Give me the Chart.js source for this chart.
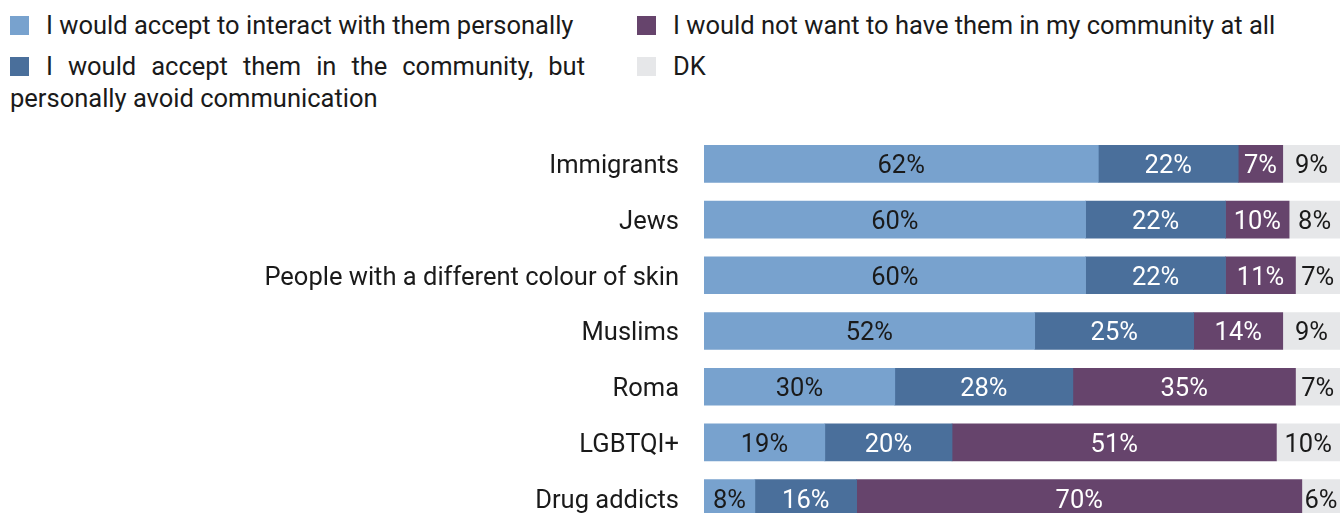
<!DOCTYPE html>
<html>
<head>
<meta charset="utf-8">
<script src="https://cdn.jsdelivr.net/npm/chart.js@4"></script>
<style>
  html, body { margin: 0; padding: 0; width: 1341px; height: 513px; overflow: hidden; background: #fff; font-family: Roboto, sans-serif; color: #1a1a1a; }
  .legend { position: absolute; font-size: 25.5px; line-height: 32px; }
  .box { display: inline-block; width: 19px; height: 19px; margin-right: 17px; vertical-align: -1px; }
  #leg1 { left: 10px; top: 9px; width: 575px; }
  #leg2 { left: 10px; top: 50px; width: 575px; text-align: justify; }
  #leg3 { left: 637px; top: 9px; }
  #leg4 { left: 637px; top: 50px; }
  #myChart { position: absolute; left: 0; top: 136px; }
</style>
</head>
<body>
<div class="legend" id="leg1"></div>
<div class="legend" id="leg2"></div>
<div class="legend" id="leg3"></div>
<div class="legend" id="leg4"></div>
<canvas id="myChart" width="1341" height="390"></canvas>
<script>
const categories = ['Immigrants', 'Jews', 'People with a different colour of skin', 'Muslims', 'Roma', 'LGBTQI+', 'Drug addicts'];
const seriesNames = [
    'I would accept to interact with them personally',
    'I would accept them in the community, but personally avoid communication',
    'I would not want to have them in my community at all',
    'DK'
];
const acceptPersonally = [62, 60, 60, 52, 30, 19, 8];
const avoidCommunication = [22, 22, 22, 25, 28, 20, 16];
const notInCommunity = [7, 10, 11, 14, 35, 51, 70];
const dontKnow = [9, 8, 7, 9, 7, 10, 6];

const colors = ['#78a2ce', '#4a6f9b', '#66446c', '#e6e7e9'];
const labelColors = ['#1a1a1a', '#ffffff', '#ffffff', '#1a1a1a'];

// legend built as html so the wrapped item can be justified like the original
['leg1', 'leg2', 'leg3', 'leg4'].forEach(function(id, i) {
    document.getElementById(id).innerHTML =
        '<span class="box" style="background:' + colors[i] + '"></span>' + seriesNames[i];
});

const barLabels = {
    id: 'barLabels',
    afterDatasetsDraw(chart) {
        const ctx = chart.ctx;
        ctx.save();
        ctx.font = '25.5px Roboto';
        ctx.textAlign = 'center';
        ctx.textBaseline = 'middle';
        chart.data.datasets.forEach(function(ds, i) {
            const meta = chart.getDatasetMeta(i);
            ctx.fillStyle = labelColors[i];
            meta.data.forEach(function(bar, j) {
                const x = (bar.x + bar.base) / 2;
                ctx.fillText(ds.data[j] + '%', x, bar.y + 3);
            });
        });
        ctx.restore();
    }
};

const values = [acceptPersonally, avoidCommunication, notInCommunity, dontKnow];

new Chart(document.getElementById('myChart').getContext('2d'), {
    type: 'bar',
    data: {
        labels: categories,
        datasets: values.map(function(v, i) {
            return {
                label: seriesNames[i],
                data: v,
                backgroundColor: colors[i],
                barThickness: 37
            };
        })
    },
    options: {
        indexAxis: 'y',
        responsive: false,
        animation: false,
        layout: { padding: { left: 0, right: 1, top: 0, bottom: 0 } },
        plugins: {
            legend: { display: false },
            tooltip: { enabled: false }
        },
        scales: {
            x: {
                stacked: true,
                min: 0,
                max: 100,
                display: false
            },
            y: {
                stacked: true,
                grid: { display: false, drawTicks: false },
                border: { display: false },
                ticks: {
                    color: '#1a1a1a',
                    padding: 25,
                    labelOffset: 3,
                    font: { family: 'Roboto', size: 25.5 }
                },
                afterFit(scale) {
                    scale.width = 704;
                    scale.paddingTop = 0;
                    scale.paddingBottom = 0;
                }
            }
        }
    },
    plugins: [barLabels]
});
</script>
</body>
</html>
